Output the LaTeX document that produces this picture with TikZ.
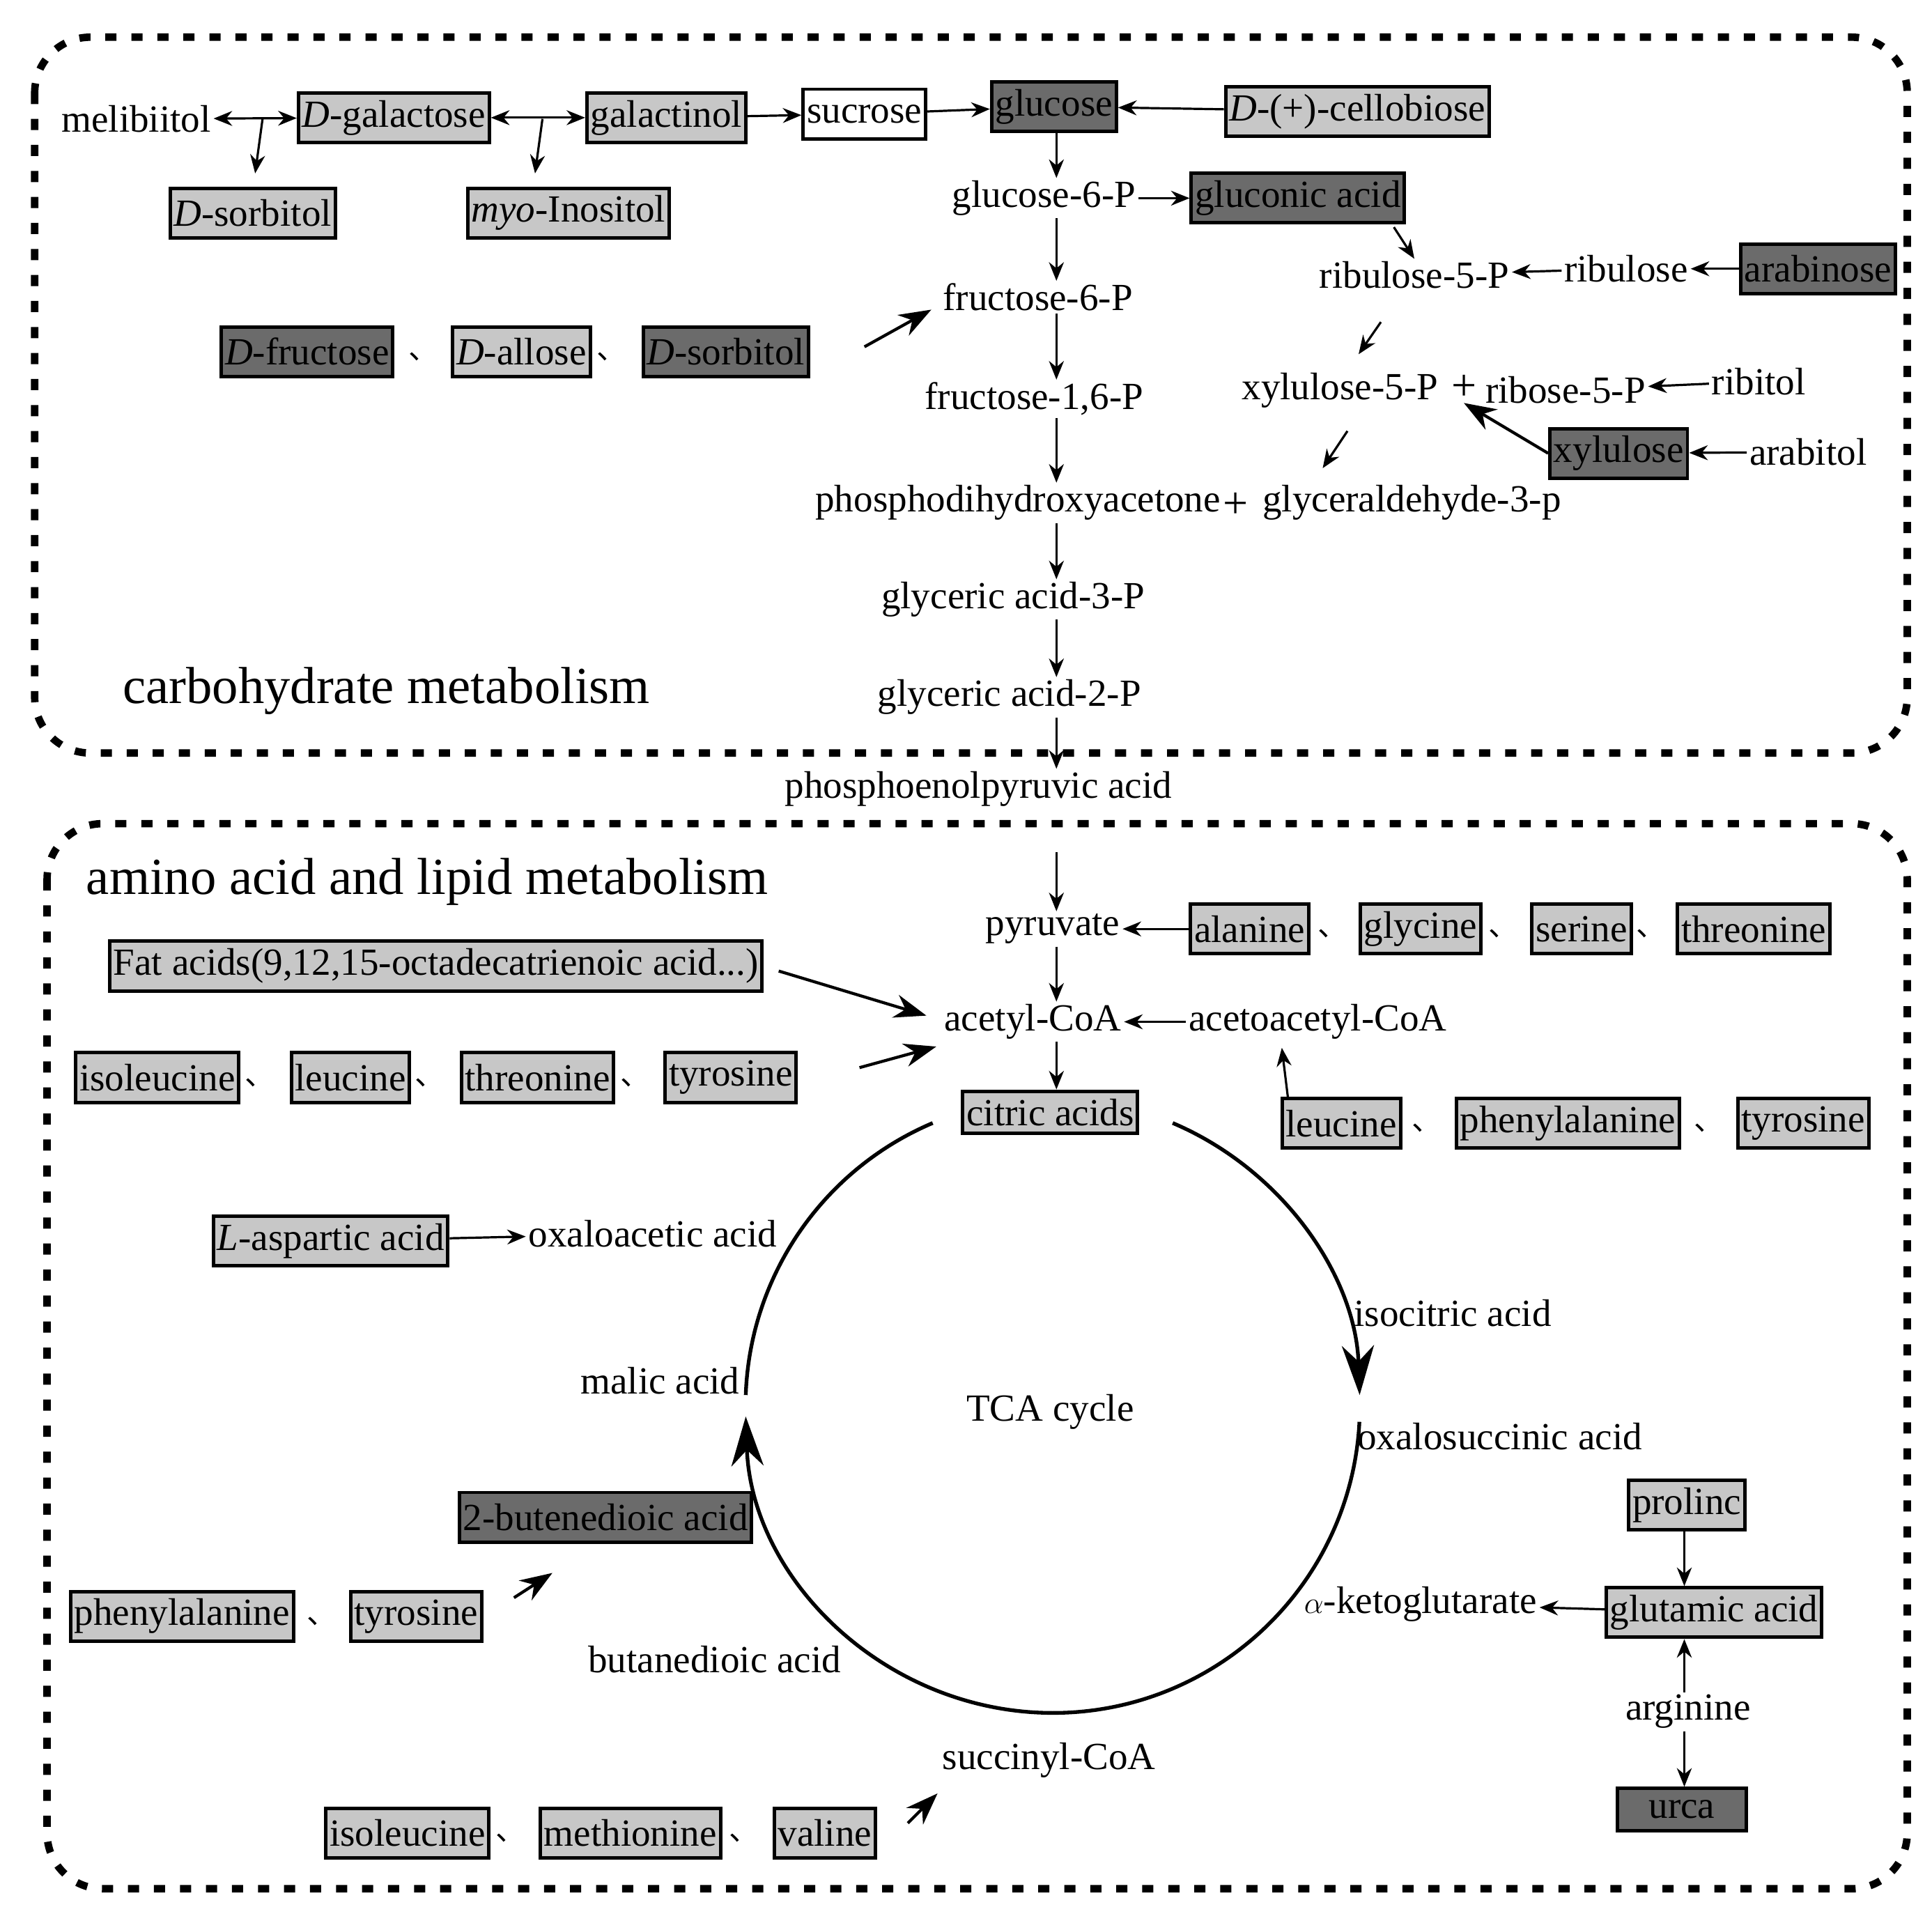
\documentclass[tikz,border=0pt]{standalone}
\usepackage{fontspec}
\setmainfont{Liberation Serif}
\newfontfamily\cjk{Noto Sans CJK SC}
\usetikzlibrary{arrows.meta}
\begin{document}
\begin{tikzpicture}[x=1pt,y=-1pt,
  every node/.style={font=\fontsize{31}{35}\selectfont,inner sep=2pt},
  bx/.style={draw,line width=2.8pt,inner xsep=3pt,inner ysep=2pt,minimum height=40pt},
  lb/.style={bx,fill=black!22},
  db/.style={bx,fill=black!58},
  wb/.style={bx,fill=white},
  sep/.style={font=\cjk\fontsize{24}{26}\selectfont,inner sep=0pt},
  ar/.style={line width=1.8pt,-{Stealth[length=15pt,width=12pt]}},
  bar/.style={line width=2.4pt,-{Stealth[length=26pt,width=19pt]}},
  da/.style={line width=1.8pt,{Stealth[length=15pt,width=12pt]}-{Stealth[length=15pt,width=12pt]}},
  border/.style={line width=6pt,dash pattern=on 9pt off 12pt,rounded corners=45pt},
  ttl/.style={font=\fontsize{42}{46}\selectfont}]
\useasboundingbox (0,0) rectangle (1560,1545);
\draw[border] (28,30) rectangle (1540,608);
\draw[border] (38,665) rectangle (1540,1525);
% top
\node (melib) at (110,96) {melibiitol};
\node[lb] (dgal) at (318,95) {\textit{D}-galactose};
\node[lb] (galnol) at (538,95) {galactinol};
\node[wb] (suc) at (698,92) {sucrose};
\node[db] (glc) at (851,86) {glucose};
\node[lb] (cello) at (1096,90) {\textit{D}-(+)-cellobiose};
\node[lb] (dsorb1) at (204,172) {\textit{D}-sorbitol};
\node[lb] (myo) at (459,172) {\textit{myo}-Inositol};
\node (g6p) at (843,160) {glucose-6-P};
\node[db] (glcn) at (1048,160) {gluconic acid};
\node (ru5p) at (1142,222) {ribulose-5-P};
\node (rul) at (1313,217) {ribulose};
\node[db] (ara) at (1468,217) {arabinose};
\node (f6p) at (838,240) {fructose-6-P};
\node[db] (dfru) at (248,284) {\textit{D}-fructose};
\node[sep] (s1) at (342,288) {、};
\node[lb] (dall) at (421,284) {\textit{D}-allose};
\node[sep] (s2) at (494,288) {、};
\node[db] (dsorb2) at (586,284) {\textit{D}-sorbitol};
\node (f16p) at (835,322) {fructose-1,6-P};
\node (x5p) at (1082,315) {xylulose-5-P};
\node[font=\fontsize{36}{36}\selectfont] (pl1) at (1182,313) {+};
\node (r5p) at (1264,315) {ribose-5-P};
\node (ribt) at (1420,308) {ribitol};
\node[db] (xyl) at (1307,366) {xylulose};
\node (arbt) at (1460,365) {arabitol};
\node (dhap) at (822,406) {phosphodihydroxyacetone};
\node[font=\fontsize{36}{36}\selectfont] (pl2) at (998,408) {+};
\node (g3p) at (1140,406) {glyceraldehyde-3-p};
\node (ga3) at (818,484) {glyceric acid-3-P};
\node (ga2) at (815,563) {glyceric acid-2-P};
\node[ttl] at (312,558) {carbohydrate metabolism};
\node (pep) at (790,637) {phosphoenolpyruvic acid};
% bottom
\node[ttl] at (345,712) {amino acid and lipid metabolism};
\node (pyr) at (850,750) {pyruvate};
\node[lb] (ala) at (1009,750) {alanine};
\node[sep] at (1076,754) {、};
\node[lb] (gly) at (1147,750) {glycine};
\node[sep] at (1214,754) {、};
\node[lb] (ser) at (1277,750) {serine};
\node[sep] at (1333,754) {、};
\node[lb] (thr) at (1416,750) {threonine};
\node[lb] (fat) at (352,780) {Fat acids(9,12,15-octadecatrienoic acid...)};
\node (acoa) at (834,825) {acetyl-CoA};
\node (aacoa) at (1064,825) {acetoacetyl-CoA};
\node[lb] (ile) at (127,870) {isoleucine};
\node[sep] at (210,874) {、};
\node[lb] (leu) at (283,870) {leucine};
\node[sep] at (347,874) {、};
\node[lb] (thr2) at (434,870) {threonine};
\node[sep] at (513,874) {、};
\node[lb] (tyr) at (590,870) {tyrosine};
\node[lb,minimum height=34pt] (cit) at (848,898) {citric acids};
\node[lb] (leu2) at (1083,907) {leucine};
\node[sep] at (1152,911) {、};
\node[lb] (phe) at (1266,907) {phenylalanine};
\node[sep] at (1380,911) {、};
\node[lb] (tyr2) at (1456,907) {tyrosine};
\node[lb] (lasp) at (267,1002) {\textit{L}-aspartic acid};
\node (oaa) at (527,996) {oxaloacetic acid};
\node (icit) at (1173,1060) {isocitric acid};
\node (mal) at (533,1115) {malic acid};
\node (tca) at (848,1140) {TCA cycle};
\node (osuc) at (1211,1160) {oxalosuccinic acid};
\node[db] (fum) at (489,1225) {2-butenedioic acid};
\node[lb] (pro) at (1362,1215) {prolinc};
\node[lb] (phe2) at (147,1305) {phenylalanine};
\node[sep] at (260,1309) {、};
\node[lb] (tyr3) at (336,1305) {tyrosine};
\node (akg) at (1147,1295) {$\alpha$-ketoglutarate};
\node[lb] (glu) at (1384,1302) {glutamic acid};
\node (suca) at (577,1340) {butanedioic acid};
\node (arg) at (1363,1382) {arginine};
\node (scoa) at (847,1421) {succinyl-CoA};
\node[db,minimum width=104pt,minimum height=34pt] (urca) at (1358,1461) {urca};
\node[lb] (ile2) at (329,1480) {isoleucine};
\node[sep] at (412,1484) {、};
\node[lb] (met) at (509,1480) {methionine};
\node[sep] at (601,1484) {、};
\node[lb] (val) at (666,1480) {valine};
% cycle
\draw[line width=3pt,-{Stealth[length=40pt,width=26pt]}] ([shift={(850,1135)}]-67:248) arc[start angle=-67,end angle=-2,radius=248];
\draw[line width=3pt,-{Stealth[length=40pt,width=26pt]}] ([shift={(850,1135)}]3:248) arc[start angle=3,end angle=178,radius=248];
\draw[line width=3pt] ([shift={(850,1135)}]182:248) arc[start angle=182,end angle=247,radius=248];
% coordinates for free ends
\coordinate (b1) at (212,96); \coordinate (b1e) at (206,140);
\coordinate (b2) at (438,96); \coordinate (b2e) at (432,140);
\coordinate (fg) at (698,280); \coordinate (fge) at (752,250);
\coordinate (ig) at (694,862); \coordinate (ige) at (756,845);
\coordinate (pg) at (415,1290); \coordinate (pge) at (446,1270);
\coordinate (vg) at (733,1472); \coordinate (vge) at (757,1448);
\coordinate (c1) at (1115,260); \coordinate (c1e) at (1097,286);
\coordinate (c2) at (1088,348); \coordinate (c2e) at (1068,378);
\coordinate (col) at (853,0);
\coordinate (pyrin) at (853,688);
% arrows
\draw[da] (melib) -- (dgal);
\draw[ar] (b1) -- (b1e);
\draw[da] (dgal) -- (galnol);
\draw[ar] (b2) -- (b2e);
\draw[ar] (galnol) -- (suc);
\draw[ar] (suc) -- (glc);
\draw[ar] (cello) -- (glc);
\draw[ar] (glc.south -| col) -- (g6p.north -| col);
\draw[ar] (g6p) -- (glcn);
\draw[ar] (glcn.south east) ++(-10,2) -- (ru5p.north);
\draw[ar] (rul) -- (ru5p);
\draw[ar] (ara) -- (rul);
\draw[ar] (c1) -- (c1e);
\draw[ar] (g6p.south -| col) -- (f6p.north -| col);
\draw[bar] (fg) -- (fge);
\draw[ar] (f6p.south -| col) -- (f16p.north -| col);
\draw[ar] (f16p.south -| col) -- (dhap.north -| col);
\draw[ar] (ribt) -- (r5p);
\draw[ar] (arbt) -- (xyl);
\draw[bar] (xyl.west) -- (pl1.south);
\draw[ar] (c2) -- (c2e);
\draw[ar] (dhap.south -| col) -- (ga3.north -| col);
\draw[ar] (ga3.south -| col) -- (ga2.north -| col);
\draw[ar] (ga2.south -| col) -- (pep.north -| col);
\draw[ar] (pyrin) -- (pyr.north -| pyrin);
\draw[ar] (ala) -- (pyr);
\draw[ar] (pyr.south -| col) -- (acoa.north -| col);
\draw[ar] (aacoa) -- (acoa);
\draw[bar] (fat.east) ++(12,4) -- (748,820);
\draw[bar] (ig) -- (ige);
\draw[ar] (acoa.south -| col) -- (cit.north -| col);
\draw[ar] (leu2.north west) ++(6,0) -- (1035,846);
\draw[ar] (lasp) -- (oaa);
\draw[bar] (pg) -- (pge);
\draw[bar] (vg) -- (vge);
\draw[ar] (glu) -- (akg);
\draw[ar] (pro.south -| 1360,0) -- (glu.north -| 1360,0);
\draw[ar] (arg.north -| 1360,0) -- (glu.south -| 1360,0);
\draw[ar] (arg.south -| 1360,0) -- (urca.north -| 1360,0);
\end{tikzpicture}
\end{document}
